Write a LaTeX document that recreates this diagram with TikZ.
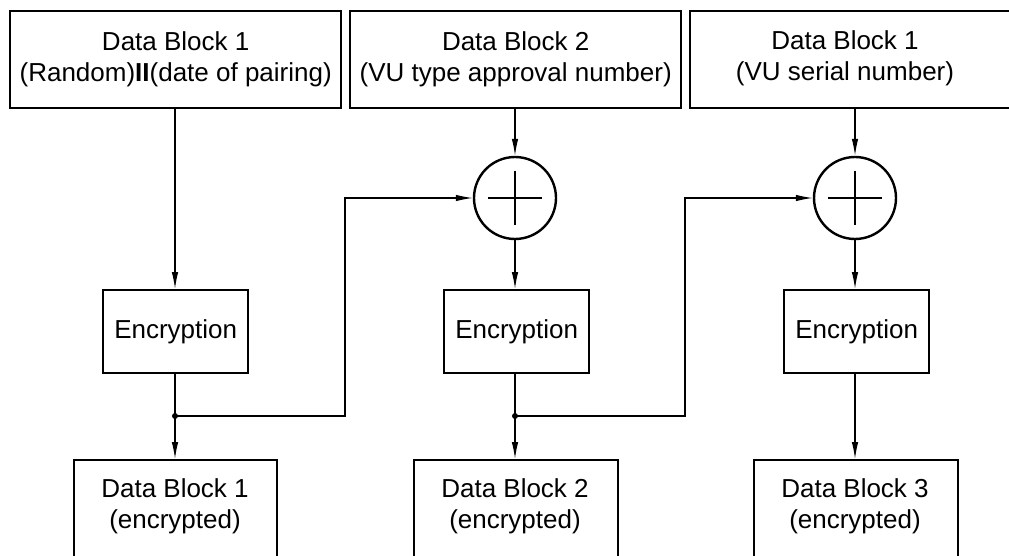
\documentclass[tikz,border=0pt]{standalone}
\usepackage{fontspec}
\setmainfont{Liberation Sans}
\usetikzlibrary{arrows.meta}
\tikzset{
 blk/.style={draw, line width=2.4pt, rectangle, inner sep=0pt, anchor=north west},
 txt/.style={font=\fontsize{26}{31}\selectfont, align=center, inner sep=0pt},
 conn/.style={line width=1.2pt},
 arr/.style={conn, -{Latex[length=17pt,width=6.5pt]}},
 xorc/.style={draw, circle, line width=2.4pt, minimum size=82pt, inner sep=0pt},
 jdot/.style={circle, fill, inner sep=0pt, minimum size=6pt},
}
\begin{document}
\begin{tikzpicture}[x=1pt,y=-1pt]
\useasboundingbox (0,0) rectangle (1009,556);
\clip (0,0) rectangle (1009,556);
% top boxes
\node[blk, txt, minimum width=331pt, minimum height=97pt] (t1) at (9,10) {Data Block 1\\(Random){\bfseries II}(date of pairing)};
\node[blk, txt, minimum width=331pt, minimum height=97pt] (t2) at (349,10) {Data Block 2\\(VU type approval number)};
\node[blk, minimum width=331pt, minimum height=97pt] (t3) at (689,10) {};
\node[txt] (t3txt) at (845,58.5) {Data Block 1\\(VU serial number)};
% xor circles
\node[xorc] (x1) at (515,198) {};
\node[xorc] (x2) at (855,198) {};
\draw[line width=2.4pt] (x1.center) ++(-27,0) -- ++(54,0) (x1.center) ++(0,-27) -- ++(0,54);
\draw[line width=2.4pt] (x2.center) ++(-27,0) -- ++(54,0) (x2.center) ++(0,-27) -- ++(0,54);
% encryption boxes
\node[blk, txt, minimum width=145pt, minimum height=83pt] (e1) at (102,289) {Encryption};
\node[blk, txt, minimum width=145pt, minimum height=83pt] (e2) at (443,289) {Encryption};
\node[blk, txt, minimum width=145pt, minimum height=83pt] (e3) at (783,289) {Encryption};
% bottom boxes
\node[blk, minimum width=203pt, minimum height=120pt] (b1) at (73,459) {};
\node[blk, minimum width=204pt, minimum height=120pt] (b2) at (413,459) {};
\node[blk, minimum width=204pt, minimum height=120pt] (b3) at (753,459) {};
\node[txt] (b1txt) at (175,506) {Data Block 1\\(encrypted)};
\node[txt] (b2txt) at (515,506) {Data Block 2\\(encrypted)};
\node[txt] (b3txt) at (855,506) {Data Block 3\\(encrypted)};
% junctions
\coordinate (d1) at (175,416);
\coordinate (d2) at (515,416);
\coordinate (k1) at (345,416);
\coordinate (k2) at (685,416);
% connectors
\draw[arr] (t1.south -| d1) -- (e1.north -| d1);
\draw[arr] (t2.south -| x1) -- (x1.north);
\draw[arr] (x1.south) -- (e2.north -| x1);
\draw[arr] (t3.south -| x2) -- (x2.north);
\draw[arr] (x2.south) -- (e3.north -| x2);
\draw[arr] (e3.south -| x2) -- (b3.north -| x2);
\draw[conn] (e1.south -| d1) -- (d1);
\draw[arr] (d1) -- (b1.north -| d1);
\draw[arr] (d1) -- (k1) |- (x1.west);
\draw[conn] (e2.south -| d2) -- (d2);
\draw[arr] (d2) -- (b2.north -| d2);
\draw[arr] (d2) -- (k2) |- (x2.west);
\node[jdot] (j1) at (d1) {};
\node[jdot] (j2) at (d2) {};
\end{tikzpicture}
\end{document}
